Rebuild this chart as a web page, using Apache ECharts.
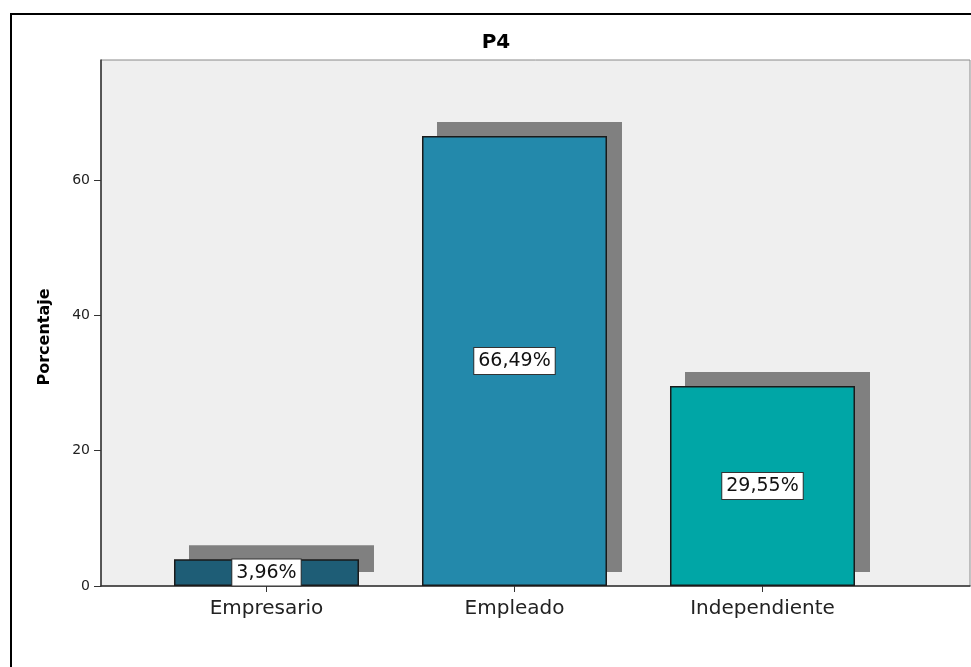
<!DOCTYPE html>
<html>
<head>
<meta charset="utf-8">
<script src="https://cdn.jsdelivr.net/npm/echarts@6/dist/echarts.min.js"></script>
<style>
  html, body { margin: 0; padding: 0; background: #fff; }
  #chart { width: 971px; height: 667px; }
</style>
</head>
<body>
<div id="chart"></div>
<script>
const categorias = ['Empresario', 'Empleado', 'Independiente'];
const porcentajes = [3.96, 66.49, 29.55];
const colores = ['#1e5d76', '#2389ab', '#00a6a6'];
const ticksY = [0, 20, 40, 60];

const anchoBarra = 185;
const myChart = echarts.init(document.getElementById('chart'));

// sombra gris desplazada detras de cada barra
const renderSombra = (params, api) => {
  const top = api.coord([api.value(0), api.value(1)]);
  const base = api.coord([api.value(0), 0]);
  return {
    type: 'rect',
    shape: { x: top[0] - anchoBarra / 2 + 15, y: top[1] - 14, width: anchoBarra, height: base[1] - top[1] },
    style: { fill: '#808080' }
  };
};

const option = {
  backgroundColor: '#ffffff',
  animation: false,
  graphic: [
    // marco exterior
    { type: 'rect', shape: { x: 11, y: 14, width: 1000, height: 1000 },
      style: { fill: 'none', stroke: '#000', lineWidth: 2 }, z: 100 },
    { type: 'text', x: 496, y: 43,
      style: { text: 'P4', align: 'center', verticalAlign: 'middle',
        font: 'bold 20px "DejaVu Sans"', fill: '#000' } },
    { type: 'text', x: 45, y: 337, rotation: Math.PI / 2,
      style: { text: 'Porcentaje', align: 'center', verticalAlign: 'middle',
        font: 'bold 16px "DejaVu Sans"', fill: '#000' } }
  ],
  grid: {
    left: 101, top: 60, right: 1, bottom: 81,
    show: true, backgroundColor: '#efefef', borderColor: '#8a8a8a', borderWidth: 1
  },
  xAxis: {
    type: 'value',
    min: -0.6673,
    max: 2.8367,
    axisLine: { show: true, onZero: false, lineStyle: { color: '#333', width: 1.5 } },
    axisTick: { show: true, length: 6, customValues: [0, 1, 2], lineStyle: { color: '#333' } },
    axisLabel: {
      customValues: [0, 1, 2],
      formatter: v => categorias[Math.round(v)],
      fontFamily: 'DejaVu Sans', fontSize: 20, color: '#222', margin: 13
    },
    splitLine: { show: false }
  },
  yAxis: {
    type: 'value',
    min: 0,
    max: 77.73,
    axisLine: { show: true, onZero: false, lineStyle: { color: '#333', width: 1.5 } },
    axisTick: { show: true, length: 7, customValues: ticksY, lineStyle: { color: '#333' } },
    axisLabel: {
      customValues: ticksY,
      fontFamily: 'DejaVu Sans', fontSize: 14, color: '#222', margin: 11
    },
    splitLine: { show: false }
  },
  series: [{
    type: 'custom',
    renderItem: renderSombra,
    data: porcentajes.map((v, i) => [i, v]),
    z: 1,
    silent: true
  }, {
    type: 'bar',
    barWidth: anchoBarra,
    z: 2,
    data: porcentajes.map((v, i) => ({
      value: [i, v],
      itemStyle: { color: colores[i] }
    })),
    itemStyle: {
      borderColor: '#1a1a1a',
      borderWidth: 1.5
    },
    label: {
      show: true,
      position: 'inside',
      formatter: p => p.value[1].toFixed(2).replace('.', ',') + '%',
      fontFamily: 'DejaVu Sans',
      fontSize: 19,
      color: '#111',
      backgroundColor: '#fff',
      borderColor: '#333',
      borderWidth: 1,
      padding: [4, 4, 3, 4]
    }
  }]
};
myChart.setOption(option);
</script>
</body>
</html>
